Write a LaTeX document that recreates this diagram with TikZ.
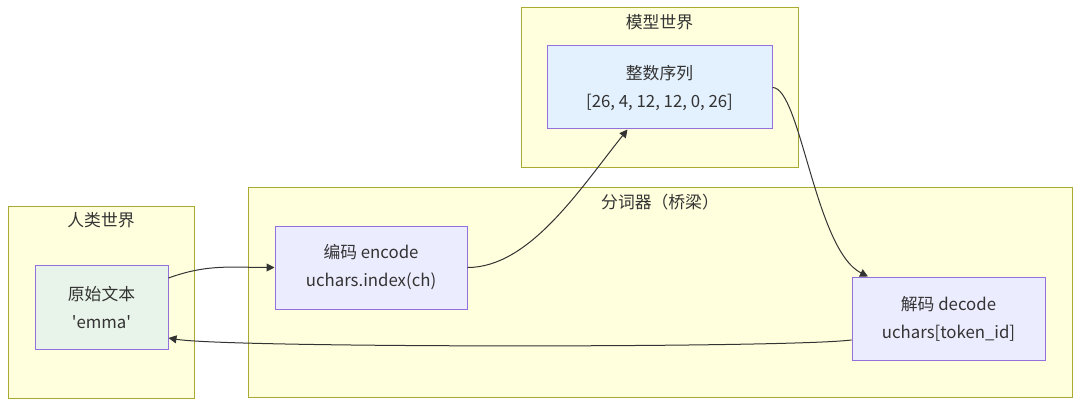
\documentclass[tikz,border=0pt]{standalone}
\usepackage{fontspec}
\setmainfont{Noto Sans CJK SC}
\usetikzlibrary{arrows.meta}

\definecolor{grpfill}{HTML}{FFFFDE}
\definecolor{grpline}{HTML}{AAAA33}
\definecolor{boxline}{HTML}{9370DB}
\definecolor{procfill}{HTML}{ECECFF}
\definecolor{textfill}{HTML}{E8F3E9}
\definecolor{seqfill}{HTML}{E3F0FD}
\definecolor{inkcol}{HTML}{333333}

\begin{document}
\begin{tikzpicture}[x=0.75pt, y=-0.75pt,
  grp/.style={draw=grpline, fill=grpfill, line width=0.75pt, inner sep=0pt},
  box/.style={draw=boxline, line width=0.75pt, align=center, inner sep=0pt, text=inkcol, font=\fontsize{12.6}{21}\selectfont},
  ttl/.style={text=inkcol, font=\fontsize{12.6}{14}\selectfont},
  flow/.style={draw=inkcol, line width=0.75pt, -{Triangle[length=6pt, width=6pt]}}
]
\useasboundingbox (0,0) rectangle (1080,406);

% ---- Subgraphs ----
\node[grp, minimum width=139.5pt, minimum height=144pt] (human) at (101,302) {};
\node[grp, minimum width=618pt, minimum height=157.5pt] (tok) at (660,292) {};
\node[grp, minimum width=207.75pt, minimum height=119.25pt] (model) at (659.5,87.5) {};
\node[ttl] (humanT) at (101,220) {人类世界};
\node[ttl] (tokT) at (660,202) {分词器（桥梁）};
\node[ttl] (modelT) at (659.5,22) {模型世界};

% ---- Nodes ----
\node[box, fill=textfill, minimum width=99.75pt, minimum height=63pt] (raw) at (101.5,307) {原始文本\\\textquotesingle emma\textquotesingle};
\node[box, fill=procfill, minimum width=144pt, minimum height=62.25pt] (enc) at (371,267.5) {编码 encode\\uchars.index(ch)};
\node[box, fill=procfill, minimum width=144.75pt, minimum height=62.25pt] (dec) at (948.5,318.5) {解码 decode\\uchars[token\_id]};
\node[box, fill=seqfill, minimum width=168.75pt, minimum height=62.25pt] (seq) at (659.5,87.5) {整数序列\\{}[26, 4, 12, 12, 0, 26]};

% ---- Edges ----
\draw[flow] ([yshift=21.75pt]raw.east) to[out=20, in=180] (enc.west);
\draw[flow] (enc.east) .. controls +(62,0) and +(-48,60) .. ([xshift=-24pt]seq.south);
\draw[flow] (seq.east) .. controls +(28,0) and +(-53,-27) .. ([xshift=-60.4pt]dec.north);
\draw[flow] ([yshift=-16.1pt]dec.west) .. controls +(-60,8) and +(60,10) .. ([yshift=-23.25pt]raw.east);

\end{tikzpicture}
\end{document}
